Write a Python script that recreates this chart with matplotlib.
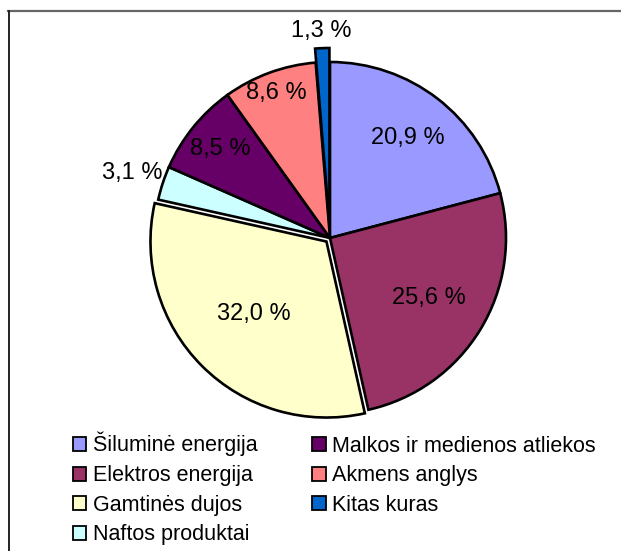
import numpy as np
import matplotlib
matplotlib.use("Agg")
import matplotlib.pyplot as plt
from matplotlib.patches import Patch
from matplotlib.lines import Line2D

plt.rcParams['font.family'] = ['Liberation Sans', 'DejaVu Sans']

categories = ["Šiluminė energija", "Elektros energija", "Gamtinės dujos",
              "Naftos produktai", "Malkos ir medienos atliekos",
              "Akmens anglys", "Kitas kuras"]
values = [20.9, 25.6, 32.0, 3.1, 8.5, 8.6, 1.3]
labels = ["20,9 %", "25,6 %", "32,0 %", "3,1 %", "8,5 %", "8,6 %", "1,3 %"]
colors = ["#9999FF", "#993366", "#FFFFCC", "#CCFFFF", "#660066", "#FF8080", "#0066CC"]

W, H = 621, 551
R = 176
explode = [0, 0, 5, 0, 0, 0, 14]          # offsets in pixels
label_r = [0.72, 0.66, 0.58, 1.18, 0.80, 0.88, 1.10]

fig = plt.figure(figsize=(W / 100, H / 100), dpi=100)
ax = fig.add_axes([0, 0, 1, 1])

cx, cy = 330, H - 238
wedges, _ = ax.pie(values, colors=colors, explode=explode, startangle=90,
                   counterclock=False, radius=R, center=(cx, cy),
                   wedgeprops=dict(edgecolor="black", linewidth=1.9,
                                   joinstyle="miter"),
                   frame=True)
ax.set_xlim(0, W)
ax.set_ylim(0, H)
ax.set_aspect("equal")
ax.axis("off")

for w, lab, rf in zip(wedges, labels, label_r):
    ang = np.deg2rad((w.theta1 + w.theta2) / 2)
    x0, y0 = w.center
    ax.text(x0 + rf * R * np.cos(ang), y0 + rf * R * np.sin(ang), lab,
            ha="center", va="center", fontsize=17, color="black")

# frame
fig.add_artist(Line2D([8, W], [H - 11, H - 11], transform=None,
                      color="#666666", linewidth=1.6))
fig.add_artist(Line2D([8.5, 8.5], [0, H - 11], transform=None,
                      color="#222222", linewidth=1.4))

handles = [Patch(facecolor=c, edgecolor="black", linewidth=1.3) for c in colors]
fig.legend(handles, categories, loc="upper left",
           bbox_to_anchor=(73 / W, 1 - 432 / H), ncol=2, frameon=False,
           fontsize=15.5, handlelength=0.62, handleheight=0.62,
           handletextpad=0.3, columnspacing=2.55, labelspacing=0.4,
           borderaxespad=0, borderpad=0)

fig.savefig("out.png", dpi=100)
